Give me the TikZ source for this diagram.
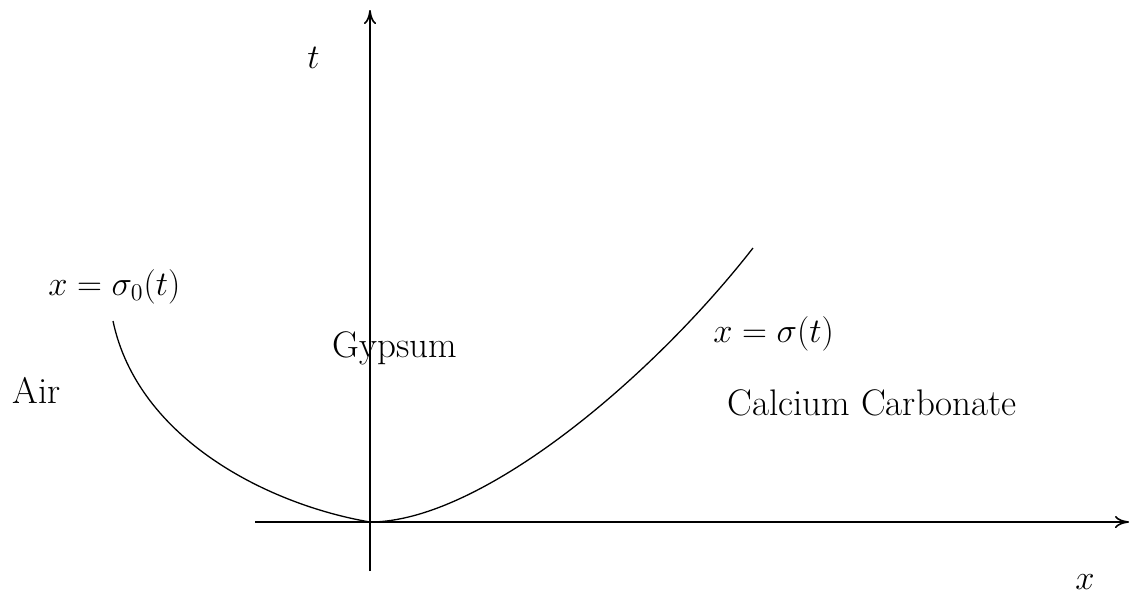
\documentclass[tikz,border=0pt]{standalone}
\usetikzlibrary{arrows.meta}
\begin{document}
\begin{tikzpicture}[x=0.5pt,y=-0.5pt,
  axisline/.style={line width=0.8pt,-{To[length=7pt,width=6pt]}},
  curveline/.style={line width=0.65pt},
  lbl/.style={anchor=base west,inner sep=0pt,font=\fontsize{18.5}{22}\selectfont}]
\useasboundingbox (0,0) rectangle (1132,596);
\coordinate (O) at (370,522);
\coordinate (xs) at (255,522);
\coordinate (xe) at (1129,522);
\coordinate (ts) at (370,571);
\coordinate (te) at (370,10);
\coordinate (L) at (113,321);
\coordinate (R) at (753,248);
\draw[axisline] (xs) -- (xe);
\draw[axisline] (ts) -- (te);
\draw[curveline] (L) .. controls (138,440) and (270,505) .. (O);
\draw[curveline] (O) .. controls (480,522) and (650,380) .. (R);
\node[lbl] (tl) at (307,68) {$t$};
\node[lbl] (xl) at (1075,589) {$x$};
\node[lbl] (s0) at (48,295) {$x=\sigma_0(t)$};
\node[lbl] (air) at (12,403) {Air};
\node[lbl] (gyp) at (332,357) {Gypsum};
\node[lbl] (s) at (713,342) {$x=\sigma(t)$};
\node[lbl] (cc) at (727,415) {Calcium Carbonate};
\end{tikzpicture}
\end{document}
